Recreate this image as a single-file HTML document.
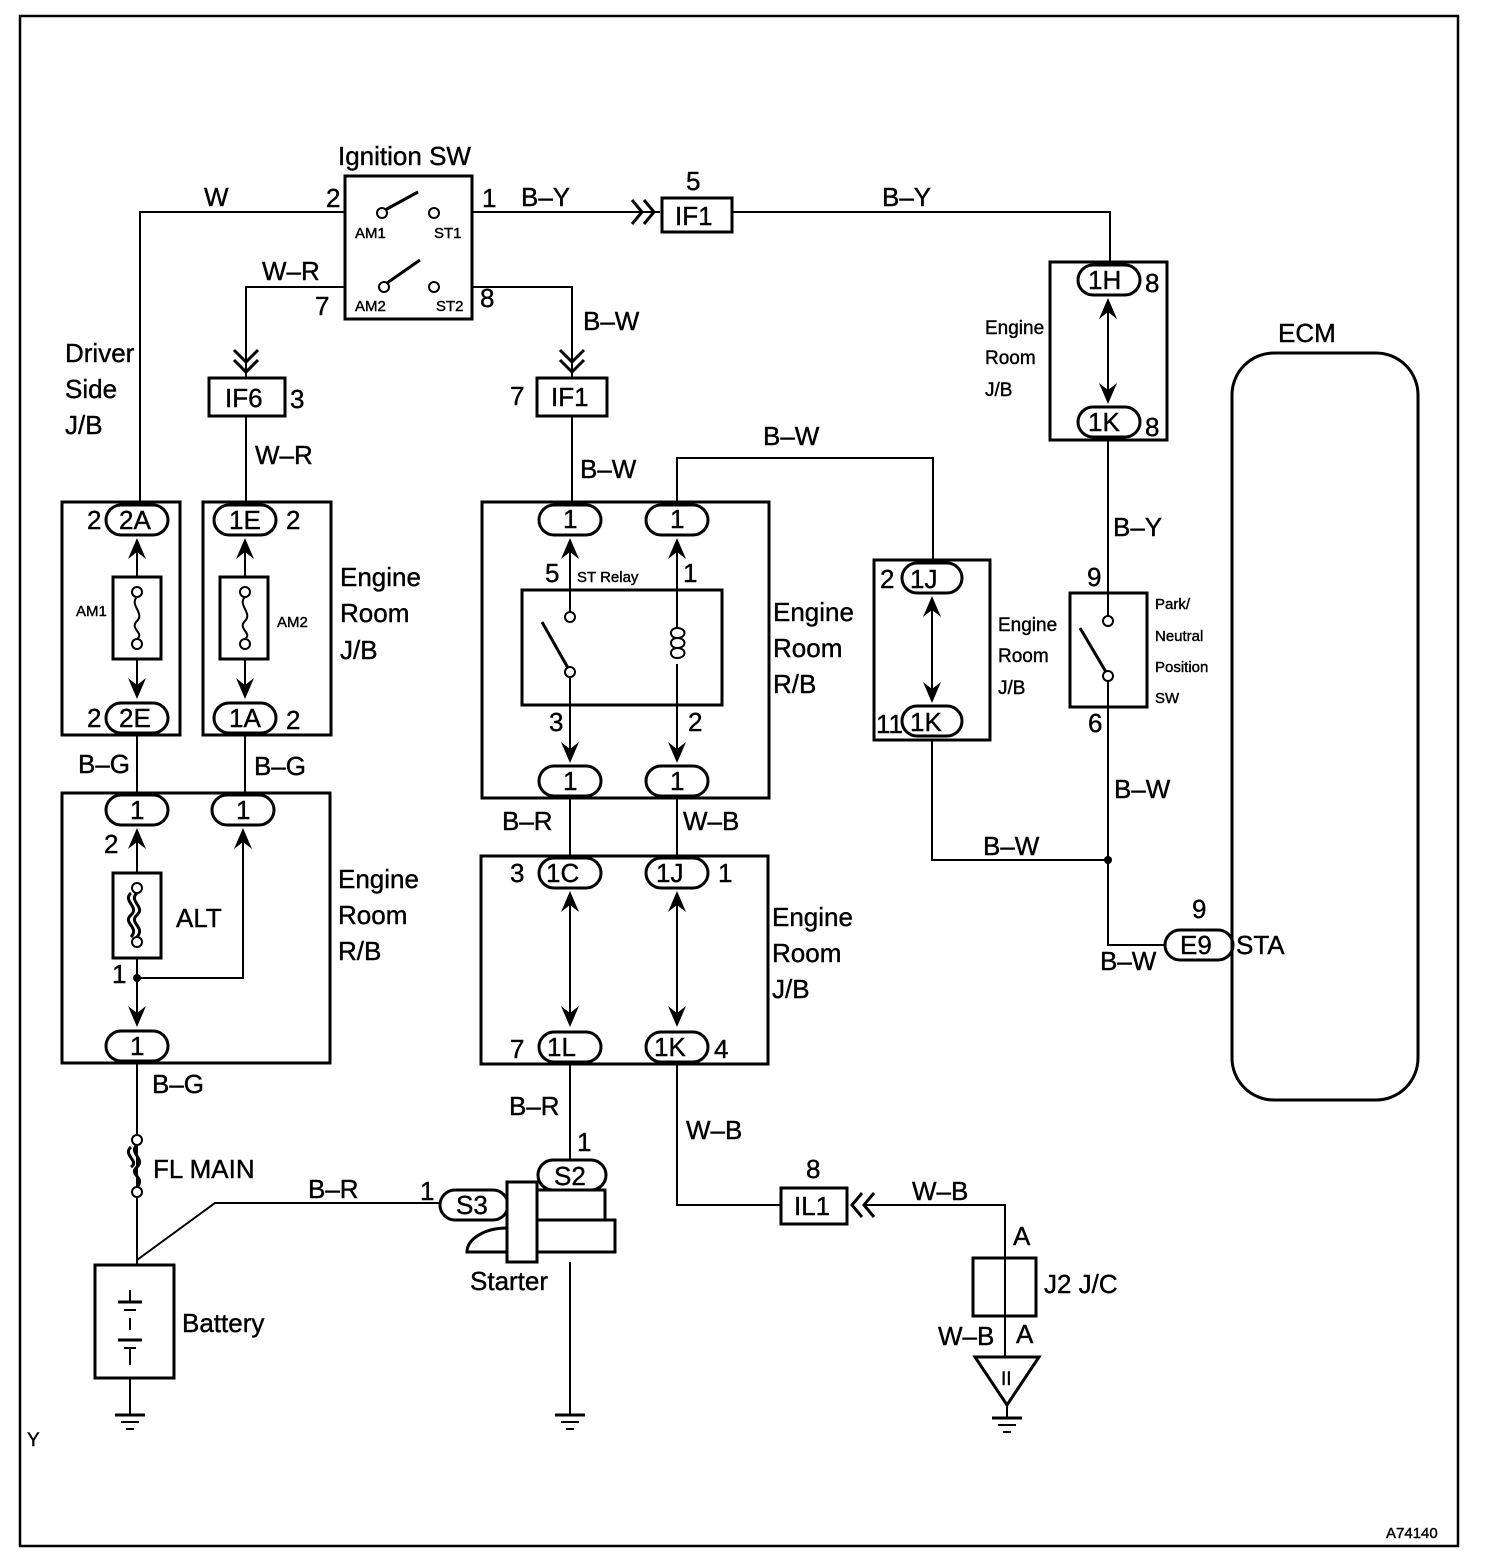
<!DOCTYPE html>
<html><head><meta charset="utf-8"><style>
html,body{margin:0;padding:0;background:#fff}
svg{display:block}
text{font-family:"Liberation Sans",Arial,sans-serif;fill:#000;stroke:#000;stroke-width:0.4}
.l{font-size:26px}.s{font-size:15px}.m{font-size:19px}
</style></head><body>
<svg width="1504" height="1566" viewBox="0 0 1504 1566" xmlns="http://www.w3.org/2000/svg">
<defs>
<g id="up"><polygon points="-9,12 0,-9 9,12 0,5" fill="#000"/></g>
<g id="dn"><polygon points="-9,-12 0,9 9,-12 0,-5" fill="#000"/></g>
</defs>
<g fill="none" stroke="#000" stroke-width="2">
<rect x="20" y="16" width="1438" height="1530" stroke-width="2.5"/>
<rect x="345" y="176" width="127" height="143" stroke-width="3"/>
<circle cx="382" cy="213" r="5"/><line x1="385" y1="210" x2="418" y2="192" stroke-width="3"/>
<circle cx="434" cy="213" r="5"/>
<circle cx="384" cy="287" r="5"/><line x1="387" y1="283" x2="420" y2="260" stroke-width="3"/>
<circle cx="434" cy="287" r="5"/>
<polyline points="345,212 140,212 140,503"/>
<polyline points="472,212 660,212"/>
<path d="M632,200 642,212 632,224 M644,200 654,212 644,224" stroke-width="3"/>
<rect x="662" y="198" width="70" height="34" stroke-width="3"/>
<polyline points="732,212 1110,212 1110,262"/>
<polyline points="345,287 246,287 246,378"/>
<path d="M234,350 246,362 258,350 M234,360 246,372 258,360" stroke-width="3"/>
<rect x="209" y="378" width="76" height="38" stroke-width="3"/>
<polyline points="472,287 572,287 572,378"/>
<path d="M560,350 572,362 584,350 M560,360 572,372 584,360" stroke-width="3"/>
<rect x="537" y="378" width="70" height="38" stroke-width="3"/>
<line x1="246" y1="416" x2="246" y2="503"/>
<line x1="572" y1="416" x2="572" y2="503"/>
<rect x="62" y="502" width="118" height="233" stroke-width="3"/>
<rect x="203" y="502" width="128" height="233" stroke-width="3"/>
<rect x="106" y="505" width="62" height="30" rx="15" stroke-width="3"/>
<rect x="214" y="505" width="62" height="30" rx="15" stroke-width="3"/>
<rect x="106" y="703" width="62" height="30" rx="15" stroke-width="3"/>
<rect x="214" y="703" width="62" height="30" rx="15" stroke-width="3"/>
<line x1="137" y1="545" x2="137" y2="692"/><line x1="245" y1="545" x2="245" y2="692"/>
<rect x="113" y="577" width="48" height="82" stroke-width="3" fill="#fff"/>
<rect x="220" y="577" width="48" height="82" stroke-width="3" fill="#fff"/>
<circle cx="137" cy="592" r="5" fill="#fff"/><circle cx="137" cy="644" r="5" fill="#fff"/>
<path d="M137,597 c-8,8 8,16 0,24 c-8,8 8,12 0,18"/>
<circle cx="245" cy="592" r="5" fill="#fff"/><circle cx="245" cy="644" r="5" fill="#fff"/>
<path d="M245,597 c-8,8 8,16 0,24 c-8,8 8,12 0,18"/>
<line x1="137" y1="735" x2="137" y2="795"/><line x1="245" y1="735" x2="245" y2="795"/>
<rect x="62" y="793" width="268" height="270" stroke-width="3"/>
<rect x="106" y="795" width="62" height="30" rx="15" stroke-width="3"/>
<rect x="212" y="795" width="62" height="30" rx="15" stroke-width="3"/>
<line x1="137" y1="835" x2="137" y2="1020"/>
<polyline points="137,978 243,978 243,835"/>
<rect x="113" y="873" width="48" height="85" fill="#fff" stroke-width="3"/>
<circle cx="137" cy="888" r="5"/><circle cx="137" cy="942" r="5"/>
<path d="M137,893 c-9,8 9,14 0,22 c-9,8 9,12 0,22 M131,893 c-9,8 9,14 0,22 c-9,8 9,12 0,22" stroke-width="3"/>
<rect x="106" y="1031" width="62" height="30" rx="15" stroke-width="3"/>
<line x1="137" y1="1063" x2="137" y2="1265"/>
<circle cx="137" cy="1140" r="5" fill="#fff"/><circle cx="137" cy="1192" r="5" fill="#fff"/>
<path d="M137,1145 c-9,8 9,14 0,22 c-9,8 9,10 0,20 M131,1147 c-9,8 9,14 0,20" stroke-width="3"/>
<rect x="95" y="1265" width="79" height="113" stroke-width="3"/>
<line x1="130" y1="1290" x2="130" y2="1302"/><line x1="118" y1="1302" x2="142" y2="1302" stroke-width="3"/>
<line x1="124" y1="1310" x2="136" y2="1310"/><line x1="130" y1="1318" x2="130" y2="1330"/>
<line x1="118" y1="1340" x2="142" y2="1340" stroke-width="3"/><line x1="124" y1="1348" x2="136" y2="1348"/>
<line x1="130" y1="1348" x2="130" y2="1365"/>
<line x1="130" y1="1378" x2="130" y2="1415"/>
<line x1="115" y1="1415" x2="145" y2="1415" stroke-width="3"/><line x1="121" y1="1422" x2="139" y2="1422"/><line x1="126" y1="1429" x2="134" y2="1429"/>
<polyline points="137,1260 215,1203 440,1203"/>
<rect x="440" y="1190" width="68" height="30" rx="15" stroke-width="3"/>
<rect x="538" y="1160" width="68" height="30" rx="15" stroke-width="3"/>
<rect x="537" y="1190" width="68" height="30" stroke-width="3"/>
<rect x="537" y="1220" width="78" height="32" stroke-width="3"/>
<rect x="507" y="1182" width="30" height="80" fill="#fff" stroke-width="3"/>
<path d="M507,1228 A40,24 0 0 0 467,1252 L507,1252" stroke-width="3"/>
<line x1="570" y1="1262" x2="570" y2="1415"/>
<line x1="555" y1="1415" x2="585" y2="1415" stroke-width="3"/><line x1="561" y1="1422" x2="579" y2="1422"/><line x1="566" y1="1429" x2="574" y2="1429"/>
<line x1="570" y1="1063" x2="570" y2="1160"/>
<rect x="482" y="502" width="287" height="296" stroke-width="3"/>
<rect x="539" y="505" width="62" height="30" rx="15" stroke-width="3"/>
<rect x="646" y="505" width="62" height="30" rx="15" stroke-width="3"/>
<rect x="539" y="766" width="62" height="30" rx="15" stroke-width="3"/>
<rect x="646" y="766" width="62" height="30" rx="15" stroke-width="3"/>
<rect x="522" y="590" width="200" height="115" stroke-width="3"/>
<line x1="570" y1="545" x2="570" y2="612"/><circle cx="570" cy="617" r="5"/>
<line x1="542" y1="622" x2="568" y2="668" stroke-width="3"/><circle cx="570" cy="672" r="5"/>
<line x1="570" y1="677" x2="570" y2="756"/>
<line x1="677" y1="545" x2="677" y2="628"/>
<path d="M677,628 c10,0 10,10 0,10 c-8,0 -8,-10 0,-10 M677,638 c10,0 10,10 0,10 c-8,0 -8,-10 0,-10 M677,648 c10,0 10,10 0,10 c-8,0 -8,-10 0,-10"/>
<line x1="677" y1="664" x2="677" y2="756"/>
<polyline points="677,502 677,458 933,458 933,562"/>
<line x1="570" y1="798" x2="570" y2="858"/><line x1="677" y1="798" x2="677" y2="858"/>
<rect x="481" y="856" width="287" height="208" stroke-width="3"/>
<rect x="539" y="858" width="62" height="30" rx="15" stroke-width="3"/>
<rect x="646" y="858" width="62" height="30" rx="15" stroke-width="3"/>
<rect x="539" y="1032" width="62" height="30" rx="15" stroke-width="3"/>
<rect x="646" y="1032" width="62" height="30" rx="15" stroke-width="3"/>
<line x1="570" y1="898" x2="570" y2="1020"/><line x1="677" y1="898" x2="677" y2="1020"/>
<polyline points="677,1064 677,1205 781,1205"/>
<rect x="781" y="1188" width="66" height="36" stroke-width="3"/>
<path d="M862,1193 852,1205 862,1217 M874,1193 864,1205 874,1217" stroke-width="3"/>
<polyline points="864,1205 1005,1205 1005,1258"/>
<rect x="973" y="1258" width="63" height="58" stroke-width="3"/>
<line x1="1005" y1="1258" x2="1005" y2="1316"/>
<line x1="1005" y1="1316" x2="1005" y2="1357"/>
<polygon points="975,1357 1039,1357 1007,1405" stroke-width="3"/>
<line x1="1007" y1="1405" x2="1007" y2="1418"/>
<line x1="992" y1="1418" x2="1022" y2="1418" stroke-width="3"/><line x1="998" y1="1425" x2="1016" y2="1425"/><line x1="1003" y1="1432" x2="1011" y2="1432"/>
<rect x="874" y="560" width="116" height="180" stroke-width="3"/>
<rect x="902" y="563" width="60" height="30" rx="15" stroke-width="3"/>
<rect x="902" y="706" width="60" height="30" rx="15" stroke-width="3"/>
<line x1="932" y1="603" x2="932" y2="696"/>
<polyline points="932,740 932,860 1108,860"/>
<rect x="1050" y="262" width="117" height="178" stroke-width="3"/>
<rect x="1078" y="265" width="62" height="30" rx="15" stroke-width="3"/>
<rect x="1078" y="407" width="62" height="30" rx="15" stroke-width="3"/>
<line x1="1108" y1="305" x2="1108" y2="397"/>
<line x1="1108" y1="440" x2="1108" y2="593"/>
<rect x="1070" y="593" width="77" height="114" stroke-width="3"/>
<line x1="1108" y1="593" x2="1108" y2="616"/><circle cx="1108" cy="621" r="5"/>
<line x1="1080" y1="628" x2="1106" y2="672" stroke-width="3"/><circle cx="1108" cy="676" r="5"/>
<line x1="1108" y1="681" x2="1108" y2="707"/>
<polyline points="1108,707 1108,945 1165,945"/>
<rect x="1165" y="930" width="68" height="30" rx="15" stroke-width="3"/>
<rect x="1232" y="353" width="186" height="747" rx="42" stroke-width="3"/>
</g>
<circle cx="137" cy="978" r="4"/><circle cx="1108" cy="860" r="4"/>
<use href="#up" x="137" y="547"/><use href="#up" x="245" y="547"/>
<use href="#dn" x="137" y="690"/><use href="#dn" x="245" y="690"/>
<use href="#up" x="137" y="837"/><use href="#up" x="243" y="837"/>
<use href="#dn" x="137" y="1018"/>
<use href="#up" x="570" y="547"/><use href="#up" x="677" y="547"/>
<use href="#dn" x="570" y="754"/><use href="#dn" x="677" y="754"/>
<use href="#up" x="570" y="900"/><use href="#up" x="677" y="900"/>
<use href="#dn" x="570" y="1018"/><use href="#dn" x="677" y="1018"/>
<use href="#up" x="932" y="605"/><use href="#dn" x="932" y="694"/>
<use href="#up" x="1108" y="307"/><use href="#dn" x="1108" y="395"/>
<g class="l">
<text x="338" y="165">Ignition SW</text>
<text x="204" y="206">W</text><text x="326" y="207">2</text><text x="482" y="207">1</text>
<text x="521" y="206">B–Y</text><text x="686" y="190">5</text><text x="675" y="225">IF1</text>
<text x="882" y="206">B–Y</text>
<text x="262" y="280">W–R</text><text x="315" y="315">7</text><text x="480" y="307">8</text>
<text x="583" y="330">B–W</text>
<text x="225" y="407">IF6</text><text x="290" y="408">3</text>
<text x="510" y="405">7</text><text x="551" y="406">IF1</text>
<text x="255" y="464">W–R</text><text x="580" y="478">B–W</text>
<text x="65" y="362">Driver</text><text x="65" y="398">Side</text><text x="65" y="434">J/B</text>
<text x="119" y="529">2A</text><text x="87" y="529">2</text>
<text x="229" y="529">1E</text><text x="286" y="529">2</text>
<text x="119" y="727">2E</text><text x="87" y="727">2</text>
<text x="229" y="727">1A</text><text x="286" y="729">2</text>
<text x="340" y="586">Engine</text><text x="340" y="622">Room</text><text x="340" y="659">J/B</text>
<text x="78" y="773">B–G</text><text x="254" y="775">B–G</text>
<text x="130" y="819">1</text><text x="236" y="819">1</text><text x="104" y="853">2</text>
<text x="176" y="927">ALT</text><text x="112" y="983">1</text>
<text x="130" y="1055">1</text>
<text x="338" y="888">Engine</text><text x="338" y="924">Room</text><text x="338" y="960">R/B</text>
<text x="152" y="1093">B–G</text><text x="153" y="1178">FL MAIN</text>
<text x="182" y="1332">Battery</text>
<text x="308" y="1198">B–R</text><text x="420" y="1200">1</text>
<text x="456" y="1214">S3</text><text x="554" y="1185">S2</text><text x="577" y="1151">1</text>
<text x="470" y="1290">Starter</text>
<text x="509" y="1115">B–R</text>
<text x="563" y="528">1</text><text x="670" y="528">1</text>
<text x="545" y="582">5</text><text x="683" y="582">1</text>
<text x="549" y="731">3</text><text x="688" y="731">2</text>
<text x="563" y="790">1</text><text x="670" y="790">1</text>
<text x="773" y="621">Engine</text><text x="773" y="657">Room</text><text x="773" y="693">R/B</text>
<text x="763" y="445">B–W</text>
<text x="502" y="830">B–R</text><text x="683" y="830">W–B</text>
<text x="510" y="882">3</text><text x="546" y="882">1C</text><text x="656" y="882">1J</text><text x="718" y="882">1</text>
<text x="510" y="1058">7</text><text x="547" y="1056">1L</text><text x="654" y="1056">1K</text><text x="714" y="1058">4</text>
<text x="772" y="926">Engine</text><text x="772" y="962">Room</text><text x="772" y="998">J/B</text>
<text x="686" y="1139">W–B</text><text x="806" y="1178">8</text><text x="794" y="1215">IL1</text>
<text x="912" y="1200">W–B</text><text x="1013" y="1245">A</text><text x="1044" y="1293">J2 J/C</text>
<text x="938" y="1345">W–B</text><text x="1016" y="1343">A</text>
<text x="880" y="588">2</text><text x="910" y="588">1J</text>
<text x="876" y="733">11</text><text x="910" y="731">1K</text>
<text x="983" y="855">B–W</text>
<text x="1088" y="289">1H</text><text x="1145" y="292">8</text>
<text x="1088" y="431">1K</text><text x="1145" y="436">8</text>
<text x="1113" y="536">B–Y</text>
<text x="1087" y="586">9</text><text x="1088" y="732">6</text>
<text x="1114" y="798">B–W</text><text x="1100" y="970">B–W</text>
<text x="1192" y="918">9</text><text x="1180" y="954">E9</text><text x="1236" y="954">STA</text>
<text x="1278" y="342">ECM</text>
</g>
<text x="1001" y="1385" class="m">II</text>
<text x="998" y="631" class="m">Engine</text><text x="998" y="662" class="m">Room</text><text x="998" y="694" class="m">J/B</text>
<text x="985" y="334" class="m">Engine</text><text x="985" y="364" class="m">Room</text><text x="985" y="396" class="m">J/B</text>
<g class="s">
<text x="355" y="238">AM1</text><text x="434" y="238">ST1</text>
<text x="355" y="311">AM2</text><text x="436" y="311">ST2</text>
<text x="76" y="616">AM1</text><text x="277" y="627">AM2</text>
<text x="577" y="582">ST Relay</text>
<text x="1155" y="609">Park/</text><text x="1155" y="641">Neutral</text><text x="1155" y="672">Position</text><text x="1155" y="703">SW</text>
<text x="1386" y="1538">A74140</text>
</g>
<text x="27" y="1446" class="m">Y</text>
</svg>
</body></html>
